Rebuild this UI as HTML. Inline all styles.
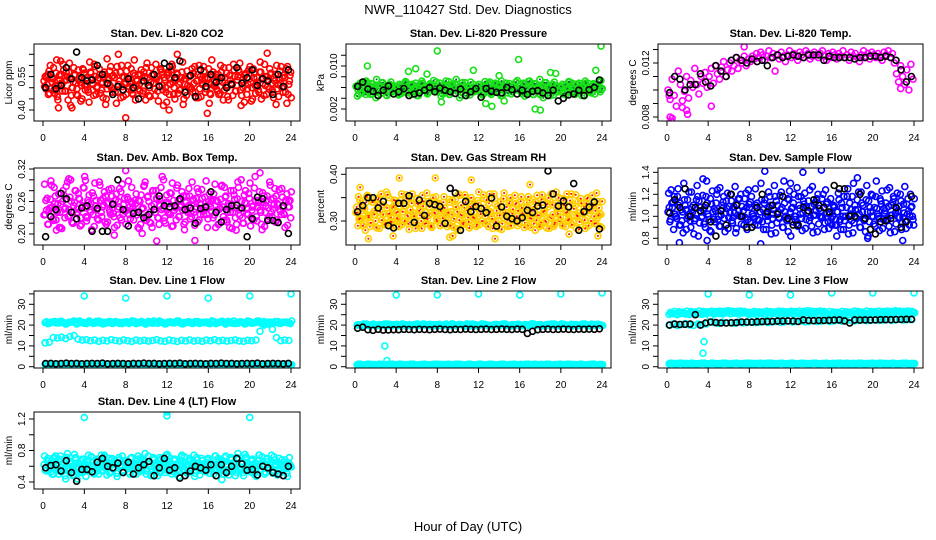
<!DOCTYPE html>
<html><head><meta charset="utf-8"><title>NWR_110427 Std. Dev. Diagnostics</title>
<style>
html,body{margin:0;padding:0;background:#fff;}
svg{display:block;font-family:"Liberation Sans",Arial,sans-serif;}
</style></head>
<body>
<svg id="chart" width="936" height="540" viewBox="0 0 936 540">
<rect x="0" y="0" width="936" height="540" fill="#fff"/>
<text x="468" y="14" text-anchor="middle" font-size="13">NWR_110427  Std. Dev. Diagnostics</text>
<text x="468" y="531" text-anchor="middle" font-size="13">Hour of Day (UTC)</text>
</svg>
<script>
// ---------- data (hour-ordered series; values in scaled units) ----------
const hourTicks = [0,4,8,12,16,20,24];

const co2Red = [530,495,560,475,545,590,510,460,555,520,605,485,535,570,420,500,555,470,580,525,450,565,515,490,615,540,465,550,505,585,520,455,560,495,535,595,480,545,430,515,570,505,545,470,600,525,490,565,445,535,515,580,485,550,610,465,525,560,495,540,440,585,510,545,480,570,520,605,470,535,560,490,545,425,515,575,500,555,480,595,530,455,550,515,575,495,540,475,625,510,560,485,530,570,445,545,500,590,520,465,550,510,580,490,535,435,565,515,595,500,545,475,525,570,450,540,510,550,495,565,480,530,600,460,520,545,505,585,470,555];
const co2OutHr = [1.5,2.8,8,12.2,15.9,21.7,13,7.3,1.7,6.2];
const co2OutVal = [410,410,365,400,385,655,650,650,620,630];
const co2Black = [500,560,495,510,590,540,660,545,530,535,600,560,520,470,505,490,540,500,450,530,510,560,505,610,595,545,620,480,555,460,580,505,560,525,545,500,515,590,520,545,580,510,540,530,470,560,505,580];

const presGreen = [62,55,68,50,64,72,58,47,66,60,75,53,62,69,57,45,63,70,52,60,58,66,49,62,71,55,64,47,60,68,53,65,72,57,61,50,67,59,64,70,56,63,48,66,58,71,52,62,67,55,60,46,64,69,57,61,53,66,59,63,55,62,48,65,58,70,51,60,66,54,59,45,63,68,56,60,52,65,57,62,52,58,44,60,50,64,47,55,62,49,54,41,58,63,50,56,46,60,52,57,54,61,46,63,57,68,50,59,65,53,58,45,62,67,55,60,48,64,56,73];
const presOutHr = [1.2,5.2,5.9,7,8,11.5,14,15.9,19,19.5,23.9,12.7,13.3,8.4,14.5,17.5,18,23.4];
const presOutVal = [100,90,95,85,128,92,82,112,88,86,137,30,25,33,35,20,18,92];
const presBlack = [62,70,57,53,45,55,63,48,52,58,45,48,50,55,60,52,59,55,52,49,57,45,52,58,42,58,53,51,50,60,56,48,55,47,53,54,50,45,55,35,40,46,48,55,45,56,60,74];

const tempMag = [100,93,108,96,88,114,104,92,99,110,94,107,102,116,104,97,110,105,113,102,110,116,105,118,112,108,117,121,110,115,120,114,118,124,116,122,120,125,118,123,121,125,123,127,124,128,126,122,125,129,124,127,114,126,123,128,125,121,126,129,124,127,125,122,128,126,124,129,127,123,125,128,126,124,127,129,125,122,127,124,128,126,123,127,125,129,124,126,122,128,125,127,124,121,126,129,125,127,123,128,126,124,127,125,122,128,126,129,124,127,120,112,106,118,110,104,115,100,119,108];
const tempOutHr = [0.3,0.4,0.5,1.5,1.9,2,4.3,7.5,0.2,22.7];
const tempOutVal = [80,77,79,87,85,82,88,132,96,101];
const tempBlack = [98,110,108,100,104,104,112,106,103,118,114,110,122,124,122,120,123,121,122,118,124,126,124,125,126,125,124,126,126,126,122,125,124,124,124,124,123,124,124,125,125,124,125,124,122,115,106,110];

const ambMag = [235,262,218,248,290,225,270,240,212,255,280,230,265,245,300,220,258,238,275,215,250,285,232,262,244,208,270,252,228,296,240,266,222,256,282,236,248,212,274,260,230,292,244,218,264,250,286,226,256,240,210,272,248,296,234,260,220,280,246,266,230,252,306,224,258,240,276,214,262,248,290,232,254,270,222,244,284,238,262,216,250,278,236,266,244,298,228,256,242,274,212,260,246,288,232,268,222,252,280,240,264,218,286,248,230,272,256,236,294,244,226,262,250,278,218,258,240,270,232,264,246,284,226,254,242,268,236,260,250,262];
const ambOutHr = [8,11,14.7,21,2.5,4.1,9.6,6.9,1.3,18.7];
const ambOutVal = [317,187,188,313,302,299,201,198,207,207];
const ambBlack = [195,232,245,275,265,240,228,248,252,205,247,205,205,255,300,245,215,238,240,230,236,245,270,252,250,252,265,245,248,220,247,250,278,240,222,245,252,253,248,195,228,268,265,225,225,221,252,201];

const rhYel = [318,290,345,305,330,280,355,312,296,340,322,285,350,308,335,292,362,315,300,328,345,288,320,305,358,298,332,312,282,348,318,302,338,290,325,355,310,295,342,316,286,330,352,306,322,294,340,312,288,346,320,300,336,284,358,314,296,328,350,308,290,334,318,302,344,292,326,356,310,298,338,316,284,348,322,300,332,294,360,312,288,342,318,304,336,290,326,352,308,296,340,314,286,346,320,302,334,292,356,316,298,330,344,306,288,338,320,300,348,294,324,358,310,296,336,312,284,342,318,304,330,290,350,316,300,338,322,306,328,314];
const rhOutHr = [4.3,7.8,11.3,1.3,3.7,13.6,9.2,9.5,20.8,23.6,17,0.5];
const rhOutVal = [392,392,388,262,268,262,265,268,272,268,378,372];
const rhBlack = [320,333,350,350,328,342,290,285,338,338,354,297,345,312,338,335,331,295,370,360,280,342,320,331,327,318,349,289,330,310,305,300,307,323,318,332,334,407,358,332,343,330,380,280,320,330,341,283];

const flowBlue = [104,95,112,88,100,118,92,106,85,110,98,122,90,104,96,115,82,108,100,93,118,102,87,111,97,105,124,91,101,113,86,107,99,120,94,103,89,116,100,109,92,121,97,108,118,100,125,112,96,130,106,115,102,122,110,98,128,114,104,119,108,132,100,116,123,107,112,97,126,110,118,103,121,109,114,99,127,111,105,120,100,116,108,124,113,102,98,110,92,104,115,88,100,96,108,84,102,118,94,99,106,90,112,97,86,104,95,120,100,91,107,98,114,89,103,96,109,85,101,116,93,105,99,88,111,95,102,92,108,97];
const flowOutHr = [3.5,9.5,15,13.2,12,18.5,1.2,9.1,3.9,19.5,16.5,22.9];
const flowOutVal = [134,141,142,140,130,135,76,75,78,80,82,78];
const flowBlack = [103,115,108,125,100,108,105,110,95,82,105,92,120,110,100,90,90,108,120,104,110,102,118,98,92,92,108,105,115,110,108,104,128,125,125,100,100,120,98,88,84,95,96,98,108,90,95,118];

const l1Hi = [212,208,215,210,218,205,213,220,209,214,207,216,211,219,206,213,210,217,208,214,212,220,207,215,211,218,209,213,216,206,214,210,219,208,212,215,209,217,211,214,207,216,212,218,210,213,208,215,211,219,209,214,212,217,210,213,216,208,214,211];
const l1Mid = [115,118,140,138,142,135,145,150,132,128,130,125,128,122,127,124,130,126,123,129,125,121,128,124,127,123,126,130,124,122,128,125,121,127,124,129,123,126,122,128,125,130,124,127,123,126,129,124,122,127,125,128,170,200,205,180,140,125,128,126];
const l1Low = [10,8,12,9,11,7,10,12,8,11,9,10,12,8,10,11,9,12,8,10,11,9,10,12,8,11,9,10,12,8,10,11,9,12,8,10,11,9,10,12,8,11,9,10,12,8,10,11,9,12,8,10,11,9,10,12,8,11,9,10];
const l1Black = [15,16,14,15,17,15,16,14,15,16,15,17,14,15,16,15,14,16,15,17,15,16,14,15,16,15,17,14,15,16,15,14,16,15,17,15,16,14,15,16,15,17,14,15,16,15,14,16];
const l1OutHr = [4,8,12,16,20,24,0.2];
const l1OutVal = [340,330,340,330,340,350,115];

const l2Hi = [200,198,203,197,205,199,202,196,204,200,198,206,201,197,203,199,205,200,196,202,204,198,201,206,199,203,197,200,205,198,202,204,199,197,203,201,206,198,200,204,197,202,199,205,201,198,203,200,206,197,202,199,204,200,198,203,201,205,199,202];
const l2Low = [9,11,8,12,10,7,11,9,12,8,10,11,9,12,10,8,11,9,10,12,8,10,11,9,12,10,8,11,9,10,12,8,11,10,9,12,8,10,11,9,10,12,8,11,9,10,12,8,10,11,9,12,8,10,11,9,10,12,8,11];
const l2Black = [185,190,178,175,180,176,177,178,178,180,179,178,180,179,178,180,181,179,178,180,179,181,180,179,180,181,179,180,181,180,179,181,180,160,170,178,180,181,179,180,181,180,179,181,180,181,180,182];
const l2OutHr = [4,8,12,16,20,24,2.9,3.1];
const l2OutVal = [345,345,350,345,350,355,100,30];

const l3Hi = [252,255,250,256,253,251,257,254,252,255,258,253,256,254,259,255,257,253,258,256,254,259,257,255,260,258,256,261,259,257,262,260,258,263,261,259,264,262,260,265,263,261,266,264,262,267,265,263,268,266,264,267,265,268,266,269,267,265,268,266];
const l3Mid = [200,205,198,203,207,201,199,205,202,206,240,212,208,214,210,212,209,215,211,213,216,212,214,217,213,215,218,214,216,219,215,217,220,216,218,221,217,219,222,218,220,223,219,221,224,220,222,225,221,223,226,222,224,227,223,225,228,224,226,227];
const l3Low = [14,16,13,17,15,12,16,14,17,13,15,16,14,17,15,13,16,14,15,17,13,15,16,14,17,15,13,16,14,15,17,13,16,15,14,17,13,15,16,14,15,17,13,16,14,15,17,13,15,16,14,17,13,15,16,14,15,17,13,16];
const l3Black = [200,205,203,204,205,250,200,210,215,212,210,210,211,212,215,215,214,216,217,218,218,219,219,220,219,218,225,222,221,222,222,223,224,225,220,210,225,224,225,224,225,226,226,226,227,227,228,228];
const l3OutHr = [4,8,12,16,20,24,3.5,3.6];
const l3OutVal = [350,345,345,355,355,355,65,120];

const l4Cyan = [62,55,70,58,66,50,73,60,54,68,62,48,71,57,65,52,75,59,63,53,69,61,47,67,56,72,60,52,66,58,74,55,63,49,70,61,57,68,51,64,60,73,54,66,58,50,71,62,56,69,53,65,59,76,55,63,48,70,60,57,67,52,64,61,74,56,66,50,69,58,62,54,72,60,65,51,68,57,63,47,71,59,55,67,62,53,70,58,64,50,73,61,56,68,54,66,60,49,71,57,63,52,69,59,65,55,72,61,57,67,50,64,60,74,56,62,53,70,58,66,51,68,61,55,63,59,65,57,60,62];
const l4OutHr = [4,12,20,12,2.2,3.3,17.3];
const l4OutVal = [122,124,122,129,44,44,43];
const l4Black = [58,61,62,54,67,52,41,56,56,53,65,70,60,58,64,52,65,50,58,62,66,48,58,70,55,58,45,48,54,60,58,55,62,48,62,52,60,70,63,55,56,49,60,58,52,50,48,60];

// ---------- tick arrays ----------
const co2Ticks = [0.40,0.45,0.50,0.55,0.60,0.65];
const co2TickLabels = ["0.40","","","0.55","",""];
const presTicks = [0.002,0.004,0.006,0.008,0.010,0.012];
const presTickLabels = ["0.002","","","","0.010",""];
const tempTicks = [0.008,0.009,0.010,0.011,0.012,0.013];
const tempTickLabels = ["0.008","","","","0.012",""];
const ambTicks = [0.20,0.22,0.24,0.26,0.28,0.30,0.32];
const ambTickLabels = ["0.20","","","0.26","","","0.32"];
const rhTicks = [0.30,0.35,0.40];
const rhTickLabels = ["0.30","","0.40"];
const flowTicks = [0.8,0.9,1.0,1.1,1.2,1.3,1.4];
const flowTickLabels = ["0.8","","1.0","","1.2","","1.4"];
const lineTicks = [0,5,10,15,20,25,30,35];
const lineTickLabels = ["0","","10","","20","","30",""];
const l4Ticks = [0.4,0.6,0.8,1.0,1.2];
const l4TickLabels = ["0.4","","0.8","","1.2"];

// ---------- layout ----------
const X0 = [43,355,667], X24 = [291,602,914];
const TOP = [44,168,291,412];
const NS = "http://www.w3.org/2000/svg";
const svg = document.getElementById('chart');

function mk(tag, attrs, parent){
  const e = document.createElementNS(NS, tag);
  for (const k in attrs) e.setAttribute(k, attrs[k]);
  (parent||svg).appendChild(e);
  return e;
}

function makePanel(cfg){
  const g = mk('g', {});
  
  
  const x0 = X0[cfg.col], x24 = X24[cfg.col];
  const left = x0 - 9, right = x24 + 9;
  const top = TOP[cfg.row], bottom = top + 77;
  const xs = h => x0 + (x24 - x0) * h / 24;
  const ys = v => cfg.refPx[0] + (v - cfg.refVal[0]) * (cfg.refPx[1] - cfg.refPx[0]) / (cfg.refVal[1] - cfg.refVal[0]);

  const title = mk('text', {x:(left+right)/2, y:top-7, 'text-anchor':'middle', 'font-size':11, 'font-weight':'bold'}, g);
  title.textContent = cfg.title;
  
  

  const clip = 'clip-' + cfg.name;
  const cp = mk('clipPath', {id: clip}, g);
  mk('rect', {x:left, y:top, width:right-left, height:bottom-top}, cp);
  const pg = mk('g', {'clip-path':'url(#'+clip+')'}, g);
  
  

  function dot(h, v, color, r, inner){
    const c = mk('circle', {cx:xs(h).toFixed(1), cy:ys(v).toFixed(1), r:r, fill:'none', stroke:color, 'stroke-width':1.6}, pg);
    
    
    if (inner){
      const d = mk('circle', {cx:xs(h).toFixed(1), cy:ys(v).toFixed(1), r:1, fill:inner}, pg);
      
      
    }
  }
  cfg.series.forEach(s => {
    const n = s.vals.length;
    const passes = s.dense ? 3 : 1;
    for (let k = 0; k < passes; k++){
      const shift = k * 41;
      s.vals.forEach((v0, i) => {
        const v = s.vals[(i + shift) % n];
        const h = s.hrs ? s.hrs[i] : (i + 0.5 + k / 3) * 24 / n;
        dot(h, v * cfg.scale, s.color, s.r || 3, s.inner);
      });
    }
  });

  const box = mk('rect', {x:left, y:top, width:right-left, height:bottom-top, fill:'none', stroke:'#000', 'stroke-width':1}, g);
  
  

  hourTicks.forEach(h => {
    const x = xs(h);
    const t = mk('line', {x1:x, x2:x, y1:bottom, y2:bottom+5, stroke:'#000'}, g);
    
    
    const l = mk('text', {x:x, y:bottom+20, 'text-anchor':'middle', 'font-size':10}, g);
    l.textContent = h;
    
    
  });
  cfg.ticks.forEach((v, i) => {
    const y = ys(v);
    const t = mk('line', {x1:left-5, x2:left, y1:y, y2:y, stroke:'#000'}, g);
    
    
    if (cfg.labels[i]){
      const l = mk('text', {x:left-9, y:y, 'text-anchor':'middle', 'font-size':10, transform:'rotate(-90 '+(left-9)+' '+y+')'}, g);
      l.textContent = cfg.labels[i];
      
      
    }
  });
  const yt = mk('text', {x:left-22, y:(top+bottom)/2, 'text-anchor':'middle', 'font-size':10, transform:'rotate(-90 '+(left-22)+' '+((top+bottom)/2)+')'}, g);
  yt.textContent = cfg.ylab;
  
  
}

const RED='#ff0000', GRN='#19e019', MAG='#ff00ff', BLU='#0000ff', CYA='#00ffff', BLK='#000000', YEL='#ffd000';

makePanel({name:'panel-co2', col:0, row:0, title:'Stan. Dev. Li-820 CO2', ylab:'Licor ppm', scale:0.001,
  refVal:[0.40,0.65], refPx:[110,54.3], ticks:co2Ticks, labels:co2TickLabels,
  series:[{vals:co2Red,color:RED,dense:true},{vals:co2OutVal,hrs:co2OutHr,color:RED},{vals:co2Black,color:BLK}]});
makePanel({name:'panel-pressure', col:1, row:0, title:'Stan. Dev. Li-820 Pressure', ylab:'kPa', scale:0.0001,
  refVal:[0.002,0.010], refPx:[109,66], ticks:presTicks, labels:presTickLabels,
  series:[{vals:presGreen,color:GRN,inner:'#063',dense:true},{vals:presOutVal,hrs:presOutHr,color:GRN},{vals:presBlack,color:BLK}]});
makePanel({name:'panel-temp', col:2, row:0, title:'Stan. Dev. Li-820 Temp.', ylab:'degrees C', scale:0.0001,
  refVal:[0.008,0.012], refPx:[117,63], ticks:tempTicks, labels:tempTickLabels,
  series:[{vals:tempMag,color:MAG},{vals:tempOutVal,hrs:tempOutHr,color:MAG},{vals:tempBlack,color:BLK}]});
makePanel({name:'panel-amb-box-temp', col:0, row:1, title:'Stan. Dev. Amb. Box Temp.', ylab:'degrees C', scale:0.001,
  refVal:[0.20,0.32], refPx:[234,169], ticks:ambTicks, labels:ambTickLabels,
  series:[{vals:ambMag,color:MAG,dense:true},{vals:ambOutVal,hrs:ambOutHr,color:MAG},{vals:ambBlack,color:BLK}]});
makePanel({name:'panel-gas-rh', col:1, row:1, title:'Stan. Dev. Gas Stream RH', ylab:'percent', scale:0.001,
  refVal:[0.30,0.40], refPx:[221,174.3], ticks:rhTicks, labels:rhTickLabels,
  series:[{vals:rhYel,color:YEL,inner:RED,dense:true},{vals:rhOutVal,hrs:rhOutHr,color:YEL,inner:RED},{vals:rhBlack,color:BLK}]});
makePanel({name:'panel-sample-flow', col:2, row:1, title:'Stan. Dev. Sample Flow', ylab:'ml/min', scale:0.01,
  refVal:[0.8,1.4], refPx:[238.3,172.3], ticks:flowTicks, labels:flowTickLabels,
  series:[{vals:flowBlue,color:BLU,dense:true},{vals:flowOutVal,hrs:flowOutHr,color:BLU},{vals:flowBlack,color:BLK}]});
makePanel({name:'panel-line1-flow', col:0, row:2, title:'Stan. Dev. Line 1 Flow', ylab:'ml/min', scale:0.1,
  refVal:[0,30], refPx:[366.7,304.3], ticks:lineTicks, labels:lineTickLabels,
  series:[{vals:l1Hi,color:CYA,dense:true},{vals:l1Mid,color:CYA},{vals:l1Low,color:CYA,dense:true},{vals:l1OutVal,hrs:l1OutHr,color:CYA},{vals:l1Black,color:BLK}]});
makePanel({name:'panel-line2-flow', col:1, row:2, title:'Stan. Dev. Line 2 Flow', ylab:'ml/min', scale:0.1,
  refVal:[0,30], refPx:[366.7,304.3], ticks:lineTicks, labels:lineTickLabels,
  series:[{vals:l2Hi,color:CYA,dense:true},{vals:l2Low,color:CYA,dense:true},{vals:l2OutVal,hrs:l2OutHr,color:CYA},{vals:l2Black,color:BLK}]});
makePanel({name:'panel-line3-flow', col:2, row:2, title:'Stan. Dev. Line 3 Flow', ylab:'ml/min', scale:0.1,
  refVal:[0,30], refPx:[366.7,304.3], ticks:lineTicks, labels:lineTickLabels,
  series:[{vals:l3Hi,color:CYA,dense:true},{vals:l3Mid,color:CYA},{vals:l3Low,color:CYA,dense:true},{vals:l3OutVal,hrs:l3OutHr,color:CYA},{vals:l3Black,color:BLK}]});
makePanel({name:'panel-line4-flow', col:0, row:3, title:'Stan. Dev. Line 4 (LT) Flow', ylab:'ml/min', scale:0.01,
  refVal:[0.4,1.2], refPx:[482,419], ticks:l4Ticks, labels:l4TickLabels,
  series:[{vals:l4Cyan,color:CYA,dense:true},{vals:l4OutVal,hrs:l4OutHr,color:CYA},{vals:l4Black,color:BLK}]});
</script>
</body></html>
